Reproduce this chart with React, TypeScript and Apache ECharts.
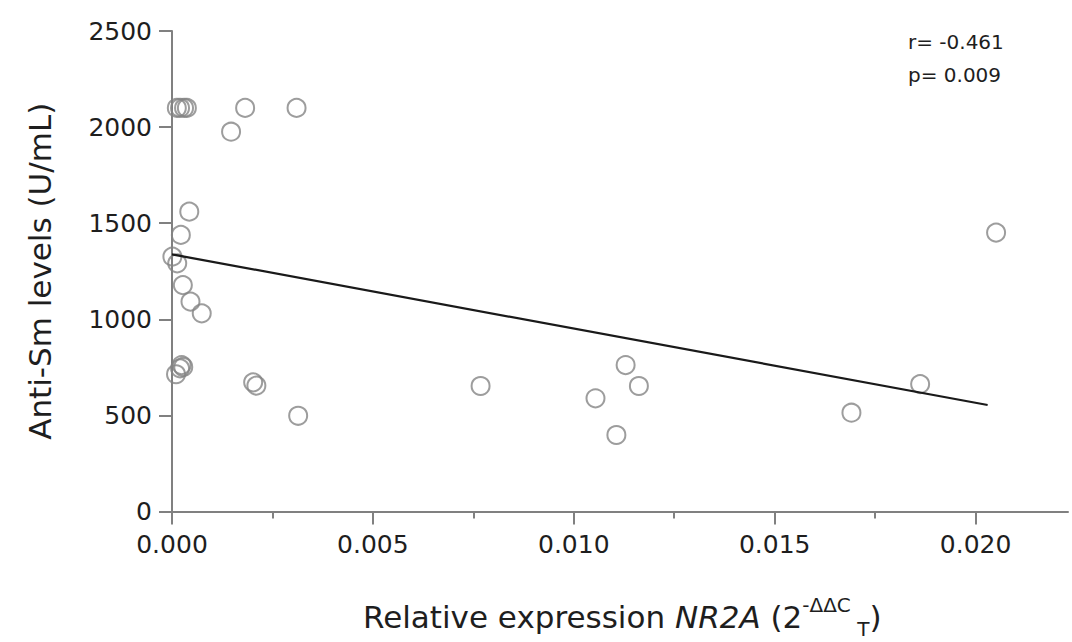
import React, { useEffect, useRef } from "react";
import * as echarts from "echarts";

// Scatter data: relative expression NR2A (x) vs Anti-Sm levels U/mL (y)
const xValues = [
  0.00012, 0.0002, 0.0003, 0.00037, 0.00182, 0.0031, 0.00147,
  0.00043, 0.00022, 0.00001, 0.00013, 0.00027, 0.00046, 0.00074,
  0.00024, 0.0002, 0.0001, 0.00028, 0.00202, 0.0021, 0.00314,
  0.00768, 0.01054, 0.01106, 0.01129, 0.01162, 0.01691, 0.01862, 0.02051,
];
const yValues = [
  2100, 2100, 2100, 2100, 2100, 2100, 1976,
  1560, 1439, 1326, 1291, 1178, 1092, 1031,
  762, 745, 714, 752, 672, 655, 498,
  653, 589, 398, 762, 653, 514, 663, 1451,
];
// Regression line end points
const fitX = [0, 0.0203];
const fitY = [1338, 554];

const xTicks = [0, 0.005, 0.01, 0.015, 0.02];
const xMinorTicks = [0.0025, 0.0075, 0.0125, 0.0175];
const yTicks = [0, 500, 1000, 1500, 2000, 2500];

const statR = "r= -0.461";
const statP = "p= 0.009";

const FONT = "DejaVu Sans";
const AXIS_COLOR = "#808080";
const TEXT_COLOR = "#1e1e1e";

export default function App() {
  const ref = useRef<HTMLDivElement>(null);

  useEffect(() => {
    if (!ref.current) return;
    const chart = echarts.init(ref.current, null, { renderer: "svg" });
    const option: any = {
      animation: false,
      backgroundColor: "#ffffff",
      grid: {
        left: 172,
        top: 31,
        right: 4,
        bottom: 130.5,
        containLabel: false,
        outerBoundsMode: "none",
      },
      xAxis: [
        {
          type: "value",
          min: 0,
          max: 0.0223,
          interval: 0.005,
          axisLine: { show: true, onZero: false, lineStyle: { color: AXIS_COLOR, width: 2 } },
          axisTick: {
            show: true,
            length: 13,
            customValues: xTicks,
            lineStyle: { color: AXIS_COLOR, width: 2 },
          },
          axisLabel: {
            customValues: xTicks,
            formatter: (v: number) => v.toFixed(3),
            fontFamily: FONT,
            fontSize: 25,
            color: TEXT_COLOR,
            margin: 20,
          },
          splitLine: { show: false },
        },
        {
          type: "value",
          min: 0,
          max: 0.0223,
          interval: 0.005,
          position: "bottom",
          axisLine: { show: false },
          axisTick: {
            show: true,
            length: 7,
            customValues: xMinorTicks,
            lineStyle: { color: AXIS_COLOR, width: 2 },
          },
          axisLabel: { show: false },
          splitLine: { show: false },
        },
      ],
      yAxis: {
        type: "value",
        min: 0,
        max: 2500,
        interval: 500,
        name: "Anti-Sm levels (U/mL)",
        nameLocation: "middle",
        nameRotate: 90,
        nameGap: 117,
        nameTextStyle: { fontFamily: FONT, fontSize: 31, color: TEXT_COLOR },
        axisLine: { show: true, onZero: false, lineStyle: { color: AXIS_COLOR, width: 2 } },
        axisTick: {
          show: true,
          length: 13,
          customValues: yTicks,
          lineStyle: { color: AXIS_COLOR, width: 2 },
        },
        axisLabel: {
          customValues: yTicks,
          formatter: (v: number) => String(v),
          fontFamily: FONT,
          fontSize: 25,
          color: TEXT_COLOR,
          margin: 20,
        },
        splitLine: { show: false },
      },
      series: [
        {
          type: "scatter",
          xAxisIndex: 0,
          data: xValues.map((x, i) => [x, yValues[i]]),
          symbol: "circle",
          symbolSize: 18,
          itemStyle: { color: "transparent", borderColor: "#858585", borderWidth: 2 },
          z: 2,
        },
        {
          type: "line",
          xAxisIndex: 0,
          data: fitX.map((x, i) => [x, fitY[i]]),
          showSymbol: false,
          symbol: "none",
          lineStyle: { color: "#1a1a1a", width: 2.2 },
          z: 3,
        },
      ],
      graphic: [
        {
          type: "text",
          left: 908,
          top: 32,
          style: { text: statR, fontFamily: FONT, fontSize: 20, fill: TEXT_COLOR },
        },
        {
          type: "text",
          left: 908,
          top: 65,
          style: { text: statP, fontFamily: FONT, fontSize: 20, fill: TEXT_COLOR },
        },
        {
          type: "text",
          x: 363,
          y: 617,
          style: {
            text: "Relative expression {i|NR2A} (2{sup|-ΔΔC}{sub| T})",
            fontFamily: FONT,
            fontSize: 31,
            fill: TEXT_COLOR,
            textVerticalAlign: "middle",
            verticalAlign: "middle",
            lineHeight: 44,
            rich: {
              i: { fontFamily: FONT, fontSize: 31, fontStyle: "italic", fill: TEXT_COLOR, lineHeight: 44 },
              sup: { fontFamily: FONT, fontSize: 20, fill: TEXT_COLOR, lineHeight: 14, verticalAlign: "top" },
              sub: { fontFamily: FONT, fontSize: 20, fill: TEXT_COLOR, lineHeight: 22, verticalAlign: "bottom" },
            },
          },
        },
      ],
    };
    chart.setOption(option);
    return () => chart.dispose();
  }, []);

  return (
    <div
      ref={ref}
      style={{ position: "absolute", left: 0, top: 0, width: 1072, height: 642, background: "#fff" }}
    />
  );
}
